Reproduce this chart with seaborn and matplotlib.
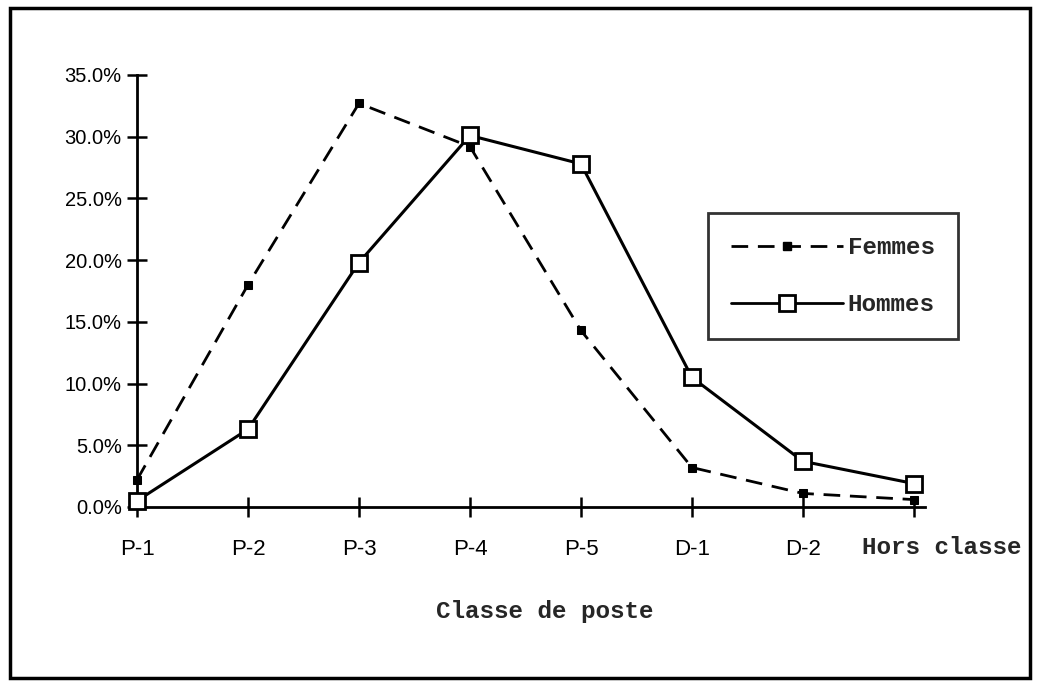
import matplotlib
matplotlib.use("Agg")
import matplotlib.pyplot as plt
import seaborn as sns
import pandas as pd
from matplotlib.lines import Line2D
from matplotlib.patches import Rectangle

categories = ["P-1", "P-2", "P-3", "P-4", "P-5", "D-1", "D-2", "Hors classe"]
femmes = [2.2, 18.0, 32.7, 29.2, 14.3, 3.2, 1.1, 0.6]
hommes = [0.5, 6.3, 19.8, 30.1, 27.8, 10.5, 3.7, 1.9]
y_ticks = [0, 5, 10, 15, 20, 25, 30, 35]

sns.set_theme(style="white")
plt.rcParams['font.family'] = ['Liberation Sans', 'DejaVu Sans']
MONO = ['Liberation Mono', 'DejaVu Sans Mono']

df = pd.DataFrame({"pos": list(range(len(categories))), "Femmes": femmes, "Hommes": hommes})

fig = plt.figure(figsize=(10.38, 6.84), dpi=100)
ax = fig.add_axes([137/1038, 1 - 507/684, (925-137)/1038, (507-75)/684])

sns.lineplot(data=df, x="pos", y="Femmes", ax=ax, color="black", lw=2,
             linestyle=(0, (6, 3.5)), marker="s", markersize=6,
             markerfacecolor="black", markeredgecolor="black", clip_on=False, zorder=3)
sns.lineplot(data=df, x="pos", y="Hommes", ax=ax, color="black", lw=2.2,
             marker="s", markersize=11, markerfacecolor="white",
             markeredgecolor="black", markeredgewidth=2, clip_on=False, zorder=4)

ax.set_xlim(0, 7.1)
ax.set_ylim(0, 35)
ax.set_xticks(range(len(categories)))
ax.set_xticklabels(categories[:-1] + [""], fontsize=16)
ax.set_yticks(y_ticks)
ax.set_yticklabels([f"{v:.1f}%" for v in y_ticks], fontsize=14.5)
# last category label sits slightly right of its tick, in typewriter font
ax.annotate(categories[-1], xy=(len(categories) - 1, 0), xycoords=("data", "axes fraction"),
            xytext=(20, -29.5), textcoords="offset points", ha="center", va="center",
            fontsize=17.5, family=MONO, fontweight="bold", annotation_clip=False)

for s in ["top", "right"]:
    ax.spines[s].set_visible(False)
for s in ["left", "bottom"]:
    ax.spines[s].set_linewidth(2)
    ax.spines[s].set_color("black")
ax.tick_params(axis="both", direction="inout", length=14, width=1.8, colors="black",
               labelcolor="black", bottom=True, left=True)
ax.tick_params(axis="y", pad=4)
ax.tick_params(axis="x", pad=16)
ax.set_ylabel("")
ax.set_xlabel("Classe de poste", fontsize=17.5, family=MONO, fontweight='bold')
ax.xaxis.set_label_coords((545-137)/788, (507-600)/432)
ax.grid(False)

handles = [
    Line2D([], [], color="black", lw=2, linestyle=(0, (6, 3.5)), marker="s",
           markersize=6, markerfacecolor="black"),
    Line2D([], [], color="black", lw=2, marker="s", markersize=11,
           markerfacecolor="white", markeredgecolor="black", markeredgewidth=2),
]
leg = fig.legend(handles, ["Femmes", "Hommes"], loc="upper left",
                 bbox_to_anchor=(708/1038, 1 - 213/684), bbox_transform=fig.transFigure,
                 frameon=True, fancybox=False, handlelength=4.6, handletextpad=0.2,
                 labelspacing=1.4, borderpad=0.95, borderaxespad=0,
                 prop={"family": MONO, "size": 17.5, "weight": "bold"})
leg.get_frame().set_edgecolor("black")
leg.get_frame().set_linewidth(2)

fig.patches.append(Rectangle((10/1038, 6/684), 1020/1038, 670/684, transform=fig.transFigure,
                             fill=False, edgecolor="black", lw=2.5))

fig.savefig("out.png", dpi=100, facecolor="white")
